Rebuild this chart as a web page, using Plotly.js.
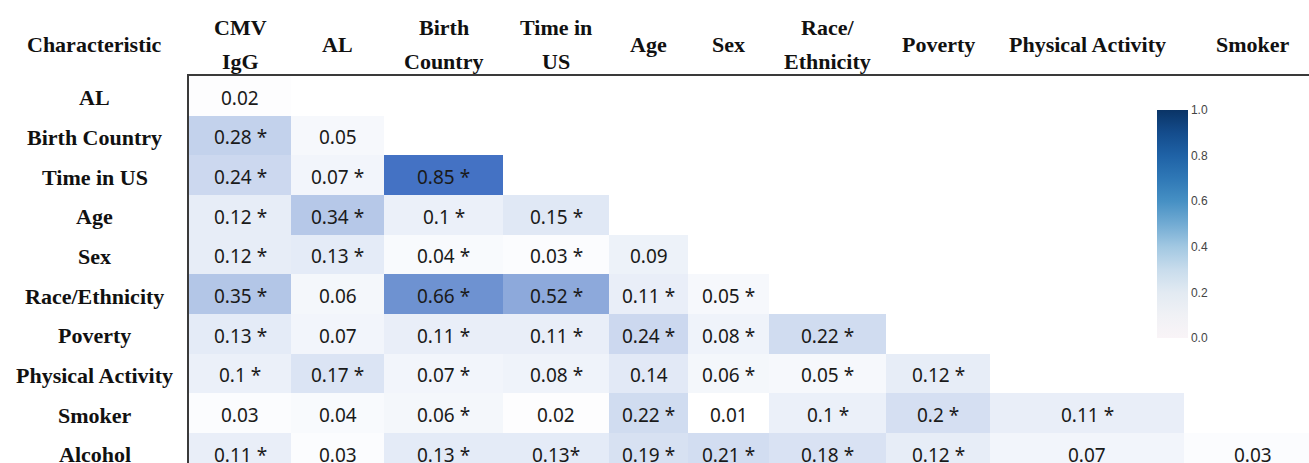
<!DOCTYPE html>
<html><head><meta charset="utf-8">
<script src="https://cdn.plot.ly/plotly-3.0.1.min.js"></script>
<style>html,body{margin:0;padding:0;background:#fff;overflow:hidden}#chart{width:1309px;height:463px}</style>
</head><body><div id="chart"></div>
<script>
// ---------- data ----------
const columnLabels = ['CMV IgG','AL','Birth Country','Time in US','Age','Sex','Race/Ethnicity','Poverty','Physical Activity','Smoker'];
const columnHeaderLines = [['CMV','IgG'],['AL'],['Birth','Country'],['Time in','US'],['Age'],['Sex'],['Race/','Ethnicity'],['Poverty'],['Physical Activity'],['Smoker']];
const rowLabels = ['AL','Birth Country','Time in US','Age','Sex','Race/Ethnicity','Poverty','Physical Activity','Smoker','Alcohol'];
const cornerLabel = 'Characteristic';

const valuesAL               = [0.02];
const valuesBirthCountry     = [0.28, 0.05];
const valuesTimeInUS         = [0.24, 0.07, 0.85];
const valuesAge              = [0.12, 0.34, 0.10, 0.15];
const valuesSex              = [0.12, 0.13, 0.04, 0.03, 0.09];
const valuesRaceEthnicity    = [0.35, 0.06, 0.66, 0.52, 0.11, 0.05];
const valuesPoverty          = [0.13, 0.07, 0.11, 0.11, 0.24, 0.08, 0.22];
const valuesPhysicalActivity = [0.10, 0.17, 0.07, 0.08, 0.14, 0.06, 0.05, 0.12];
const valuesSmoker           = [0.03, 0.04, 0.06, 0.02, 0.22, 0.01, 0.10, 0.20, 0.11];
const valuesAlcohol          = [0.11, 0.03, 0.13, 0.13, 0.19, 0.21, 0.18, 0.12, 0.07, 0.03];

const labelsAL               = ['0.02'];
const labelsBirthCountry     = ['0.28 *','0.05'];
const labelsTimeInUS         = ['0.24 *','0.07 *','0.85 *'];
const labelsAge              = ['0.12 *','0.34 *','0.1 *','0.15 *'];
const labelsSex              = ['0.12 *','0.13 *','0.04 *','0.03 *','0.09'];
const labelsRaceEthnicity    = ['0.35 *','0.06','0.66 *','0.52 *','0.11 *','0.05 *'];
const labelsPoverty          = ['0.13 *','0.07','0.11 *','0.11 *','0.24 *','0.08 *','0.22 *'];
const labelsPhysicalActivity = ['0.1 *','0.17 *','0.07 *','0.08 *','0.14','0.06 *','0.05 *','0.12 *'];
const labelsSmoker           = ['0.03','0.04','0.06 *','0.02','0.22 *','0.01','0.1 *','0.2 *','0.11 *'];
const labelsAlcohol          = ['0.11 *','0.03','0.13 *','0.13*','0.19 *','0.21 *','0.18 *','0.12 *','0.07','0.03'];

const colorbarTicks = [0, 0.2, 0.4, 0.6, 0.8, 1.0];

// ---------- layout constants (pixels) ----------
const colWidths = [102, 93, 119, 106, 79, 81, 117, 104, 194, 138];
const rowHeight = 39.65;
const marginL = 189, marginT = 76, W = 1309, H = 463;
const plotW = W - marginL, plotH = H - marginT;

const valueRows = [valuesAL, valuesBirthCountry, valuesTimeInUS, valuesAge, valuesSex, valuesRaceEthnicity, valuesPoverty, valuesPhysicalActivity, valuesSmoker, valuesAlcohol];
const labelRows = [labelsAL, labelsBirthCountry, labelsTimeInUS, labelsAge, labelsSex, labelsRaceEthnicity, labelsPoverty, labelsPhysicalActivity, labelsSmoker, labelsAlcohol];

const edges = [0];
colWidths.forEach(w => edges.push(edges[edges.length - 1] + w));
const centers = colWidths.map((w, i) => edges[i] + w / 2);
const rowIdx = rowLabels.map((_, i) => i);

const z = valueRows.map(r => columnLabels.map((_, j) => (j < r.length ? r[j] : null)));

const cellScale = [[0, '#ffffff'], [1, '#4472c4']];
const barScale = [[0, '#f9f4f7'], [0.1, '#f0f1f5'], [0.2, '#e2eaf2'], [0.3, '#c8dcec'], [0.4, '#a2c8e2'],
                  [0.5, '#72abd3'], [0.6, '#4690c4'], [0.7, '#2f78b6'], [0.8, '#1f62a6'], [0.9, '#144c8c'], [1, '#0a3466']];

const traces = [
  {
    type: 'heatmap', x: edges, y: rowIdx, z: z,
    colorscale: cellScale, zmin: 0.01, zmax: 0.85, showscale: false,
    hoverinfo: 'skip'
  },
  {
    type: 'scatter', mode: 'markers', x: [-1000, -1000], y: [0, 0],
    hoverinfo: 'skip', showlegend: false,
    marker: {
      color: [0, 1], cmin: 0, cmax: 1, colorscale: barScale, showscale: true, opacity: 0,
      colorbar: {
        thickness: 31, thicknessmode: 'pixels', len: 228, lenmode: 'pixels',
        x: (1157 - marginL) / plotW, xanchor: 'left', y: (H - 224) / plotH, yanchor: 'middle',
        xpad: 0, ypad: 0, outlinewidth: 0, ticks: '', ticklen: 2,
        tickvals: colorbarTicks, tickformat: '.1f',
        tickfont: { family: 'Liberation Sans, Arial, sans-serif', size: 12, color: '#444' }
      }
    }
  }
];

const serif = { family: 'Liberation Serif, Times New Roman, serif', size: 22, color: '#111', weight: 700 };
const sans = { family: 'Noto Sans, sans-serif', size: 19, color: '#1a1a1a' };

const annotations = [];
// corner label
annotations.push({ text: cornerLabel, xref: 'paper', x: 0, xshift: -94.5, xanchor: 'center',
  yref: 'paper', y: 1, yshift: 32, yanchor: 'middle', showarrow: false, font: serif });
// column headers
columnHeaderLines.forEach((lines, j) => {
  const shifts = lines.length === 1 ? [32] : [49, 15];
  lines.forEach((ln, k) => {
    annotations.push({ text: ln, xref: 'x', x: centers[j], xanchor: 'center',
      yref: 'paper', y: 1, yshift: shifts[k], yanchor: 'middle', showarrow: false, font: serif });
  });
});
// row labels
rowLabels.forEach((lab, i) => {
  annotations.push({ text: lab, xref: 'paper', x: 0, xshift: -94.5, xanchor: 'center',
    yref: 'y', y: i, yshift: -2, yanchor: 'middle', showarrow: false, font: serif });
});
// cell labels
labelRows.forEach((r, i) => {
  r.forEach((t, j) => {
    annotations.push({ text: t, xref: 'x', x: centers[j], xanchor: 'center',
      yref: 'y', y: i, yshift: -2, yanchor: 'middle', showarrow: false, font: sans });
  });
});

const layout = {
  width: W, height: H,
  margin: { l: marginL, r: 0, t: marginT, b: 0, pad: 0 },
  paper_bgcolor: '#fff', plot_bgcolor: '#fff',
  showlegend: false,
  xaxis: { range: [0, plotW], side: 'top', showgrid: false, zeroline: false, showticklabels: false, ticks: '',
           showline: true, linecolor: '#3a3a3a', linewidth: 2, fixedrange: true },
  yaxis: { range: [-0.5 + plotH / rowHeight, -0.5], showgrid: false, zeroline: false, showticklabels: false, ticks: '',
           showline: true, linecolor: '#3a3a3a', linewidth: 2, fixedrange: true },
  annotations: annotations
};

Plotly.newPlot('chart', traces, layout, { displayModeBar: false, staticPlot: true });
</script>
</body></html>
